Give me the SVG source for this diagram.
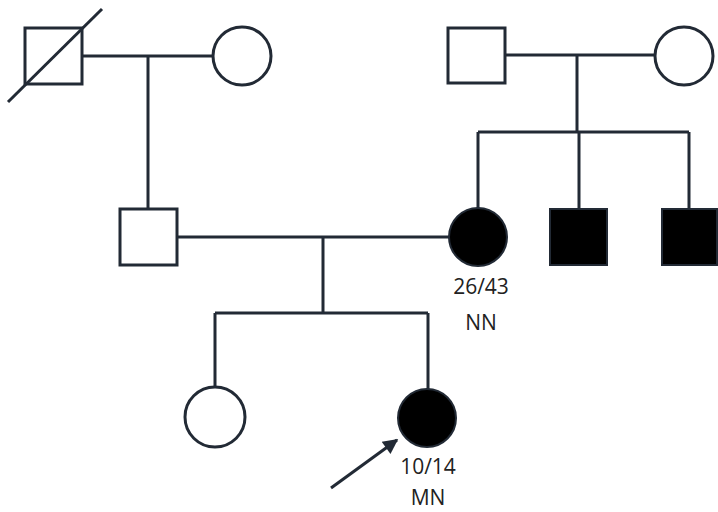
<svg xmlns="http://www.w3.org/2000/svg" width="718" height="512" viewBox="0 0 718 512">
<defs>
<style>
.ln{stroke:#222a35;stroke-width:3;fill:none}
.open{fill:#fff;stroke:#222a35;stroke-width:3}
.aff{fill:#000;stroke:#222a35;stroke-width:2}
.t{font-family:"Open Sans","Noto Sans",sans-serif;font-size:21px;fill:#222;text-anchor:middle}
</style>
<marker id="ah" viewBox="0 0 10 10" refX="9" refY="5" markerWidth="5.5" markerHeight="5" orient="auto" markerUnits="strokeWidth">
<path d="M0,0 L10,5 L0,10 z" fill="#222a35"/>
</marker>
</defs>
<rect width="718" height="512" fill="#fff"/>
<g id="connectors">
<path class="ln" d="M83,56 H212 M148,56 V209"/>
<path class="ln" d="M505,55 H655 M577,55 V132 M478,132 H689 M478,132 V208 M579,132 V209 M689,132 V209"/>
<path class="ln" d="M177,237 H449 M323,237 V313 M215,313 H428 M215,313 V388 M428,313 V389"/>
<path d="M331,488 L397,440" stroke="#222a35" stroke-width="3" fill="none" marker-end="url(#ah)"/>
</g>
<g id="grandfather1"><rect class="open" x="25" y="28" width="57" height="56"/><line class="ln" x1="8" y1="102" x2="102" y2="9"/></g>
<g id="grandmother1"><circle class="open" cx="242" cy="56" r="29"/></g>
<g id="grandfather2"><rect class="open" x="448" y="28" width="57" height="55"/></g>
<g id="grandmother2"><circle class="open" cx="684" cy="56" r="29"/></g>
<g id="father"><rect class="open" x="120" y="209" width="57" height="56"/></g>
<g id="mother"><circle class="aff" cx="478" cy="237" r="29"/><text class="t" x="481" y="294">26/43</text><text class="t" x="481" y="330">NN</text></g>
<g id="uncle1"><rect class="aff" x="550" y="209" width="57" height="56"/></g>
<g id="uncle2"><rect class="aff" x="662" y="209" width="55" height="56"/></g>
<g id="sister"><circle class="open" cx="215" cy="417" r="30"/></g>
<g id="proband"><circle class="aff" cx="427" cy="418" r="29"/><text class="t" x="428" y="474">10/14</text><text class="t" x="428" y="505">MN</text></g>
</svg>
